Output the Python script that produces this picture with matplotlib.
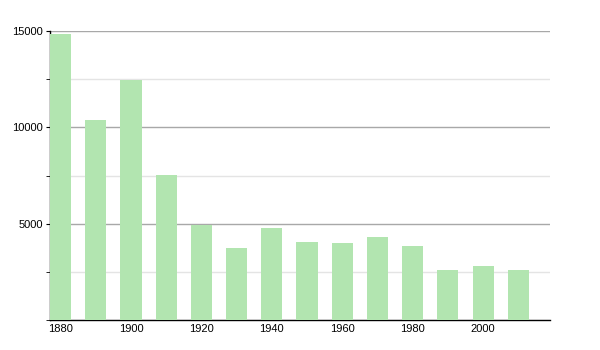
import matplotlib
matplotlib.use("Agg")
import matplotlib.pyplot as plt
from matplotlib.ticker import MultipleLocator

# population by census decade
years = [1880, 1890, 1900, 1910, 1920, 1930, 1940, 1950, 1960, 1970, 1980, 1990, 2000, 2010]
population = [14830, 10370, 12440, 7520, 4950, 3750, 4790, 4060, 4010, 4320, 3850, 2600, 2810, 2600]

plt.rcParams['font.family'] = ['Liberation Sans', 'DejaVu Sans']

fig = plt.figure(figsize=(6, 3.5), dpi=100)
ax = fig.add_axes([50/600, 30/350, 500/600, 289/350])

ax.bar(years, population, width=6, color="#b2e5b0", zorder=3)

ax.set_xlim(1877, 2019)
ax.set_ylim(0, 15000)
ax.set_xticks(range(1880, 2011, 20))
ax.yaxis.set_major_locator(MultipleLocator(5000))
ax.yaxis.set_minor_locator(MultipleLocator(2500))
ax.set_yticks([5000, 10000, 15000])

ax.grid(axis="y", which="major", color="#a8a8a8", linewidth=1, zorder=0)
ax.grid(axis="y", which="minor", color="#e4e4e4", linewidth=1, zorder=0)

for s in ["top", "right"]:
    ax.spines[s].set_visible(False)
ax.spines["left"].set_linewidth(1)
ax.spines["bottom"].set_linewidth(1)

ax.tick_params(axis="x", length=0, labelsize=8, pad=3)
ax.tick_params(axis="y", which="major", length=3, labelsize=8, pad=2)
ax.tick_params(axis="y", which="minor", length=3)

fig.savefig("out.png", dpi=100)
